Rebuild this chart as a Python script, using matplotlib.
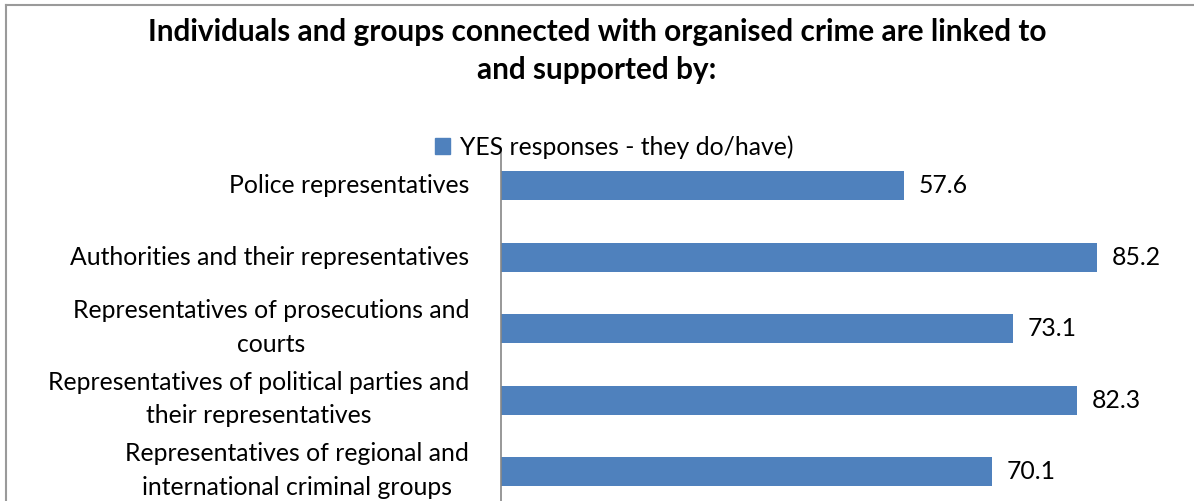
import matplotlib.pyplot as plt
from matplotlib.lines import Line2D

categories = [
    'Police representatives',
    'Authorities and their representatives',
    'Representatives of prosecutions and\ncourts',
    'Representatives of political parties and\ntheir representatives',
    'Representatives of regional and\ninternational criminal groups',
]
yes_values = [57.6, 85.2, 73.1, 82.3, 70.1]
series_name = 'YES responses - they do/have)'
title = 'Individuals and groups connected with organised crime are linked to\nand supported by:'

W, H = 1194, 501
bar_color = '#4F81BD'
font = 'Lato'
fs = 17.8

fig = plt.figure(figsize=(W / 100, H / 100), dpi=100)

# plot area: value axis 0-100, category bands 71.5 px tall
left, top, px_per_unit, band = 501, 150, 7.0, 71.5
ax = fig.add_axes([left / W, 1 - (top + band * len(categories)) / H,
                   px_per_unit * 100 / W, band * len(categories) / H])

ypos = list(range(len(categories)))
bars = ax.barh(ypos, yes_values, height=0.4, color=bar_color, label=series_name)
ax.set_xlim(0, 100)
ax.set_ylim(len(categories) - 0.5, -0.5)

for spine in ['top', 'right', 'bottom']:
    ax.spines[spine].set_visible(False)
ax.spines['left'].set_color('#868686')
ax.spines['left'].set_linewidth(1.2)
ax.set_xticks([])
ax.set_yticks([])

# category labels, right aligned just left of the axis line
for y, cat in zip(ypos, categories):
    lift = 1 if '\n' in cat else 0
    ax.annotate(cat, xy=(0, y), xycoords=('axes fraction', 'data'),
                xytext=(-23, lift), textcoords='offset points', ha='right', va='center',
                multialignment='center', linespacing=1.56, fontfamily=font, fontsize=fs,
                annotation_clip=False)

for b, v in zip(bars, yes_values):
    ax.text(v + 2.1, b.get_y() + b.get_height() / 2, '{:.1f}'.format(v),
            va='center', ha='left', fontfamily=font, fontsize=fs)

fig.text(0.5, 1 - 51 / H, title, ha='center', va='center', fontfamily=font,
         fontsize=21.4, fontweight='bold', linespacing=1.4)

handle = plt.Rectangle((0, 0), 1, 1, color=bar_color)
fig.legend([handle], [series_name], loc='center', bbox_to_anchor=(614 / W, 1 - 147 / H),
           frameon=False, prop={'family': font, 'size': fs}, handlelength=0.6,
           handleheight=0.6, handletextpad=0.4, borderpad=0)

# chart area border (left and top edges)
fig.add_artist(Line2D([6 / W, 6 / W], [0, 1 - 5 / H], color='#9a9a9a', lw=1.5))
fig.add_artist(Line2D([6 / W, 1], [1 - 5 / H, 1 - 5 / H], color='#9a9a9a', lw=1.5))

fig.savefig('out.png', dpi=100)
